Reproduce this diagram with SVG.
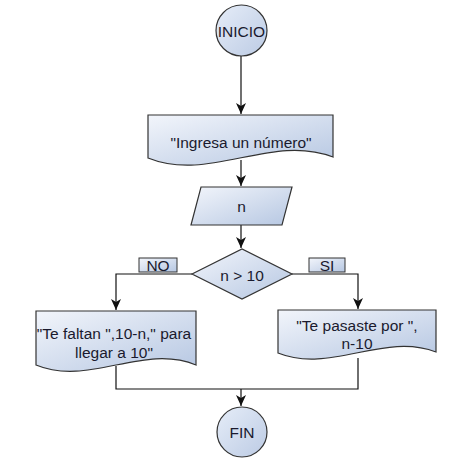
<svg xmlns="http://www.w3.org/2000/svg" width="464" height="466" viewBox="0 0 464 466">
<style>
.shape{stroke:#333;stroke-width:1.2;fill:url(#g)}
.circ{stroke:#333;stroke-width:1.2;fill:url(#gc)}
.lab{stroke:#333;stroke-width:1;fill:url(#g)}
.t{font-family:"Liberation Sans",Arial,sans-serif;font-size:15.5px;fill:#1a1a2e;text-anchor:middle;dominant-baseline:central}
.c{fill:none;stroke:#111;stroke-width:1.2}
</style>
<defs>
<linearGradient id="g" x1="0" y1="0" x2="1" y2="1">
<stop offset="0" stop-color="#f2f5fb"/><stop offset="1" stop-color="#b6c7e2"/>
</linearGradient>
<linearGradient id="gc" x1="0" y1="0" x2="1" y2="1">
<stop offset="0" stop-color="#e6edf8"/><stop offset="1" stop-color="#bccbe4"/>
</linearGradient>
<marker id="a" markerWidth="12" markerHeight="10" refX="11" refY="5" orient="auto" markerUnits="userSpaceOnUse">
<path d="M0,0 L11,5 L0,10 L3,5 Z" fill="#111"/>
</marker>
</defs>
<rect width="464" height="466" fill="#fff"/>
<g id="connectors">
<path class="c" d="M241,56 V114" marker-end="url(#a)"/>
<path class="c" d="M241,160 V186" marker-end="url(#a)"/>
<path class="c" d="M241,225 V248" marker-end="url(#a)"/>
<path class="c" d="M192,274 H116 V310" marker-end="url(#a)"/>
<path class="c" d="M292,274 H358 V309" marker-end="url(#a)"/>
<path class="c" d="M116,366 V389 H358 V358"/>
<path class="c" d="M241,389 V406" marker-end="url(#a)"/>
</g>
<g id="inicio">
<circle class="circ" cx="241.5" cy="30.5" r="25.5"/>
<text class="t" x="241.5" y="31">INICIO</text>
</g>
<g id="ingresa">
<path class="shape" d="M148,115 H333 V157 C271,133 210,183 148,158 Z"/>
<text class="t" x="241" y="142">"Ingresa un número"</text>
</g>
<g id="leer">
<path class="shape" d="M201,187 H292 L282,225 H191 Z"/>
<text class="t" x="241.5" y="206">n</text>
</g>
<g id="decision">
<path class="shape" d="M192,274 L242,249 L292,274 L242,299 Z"/>
<text class="t" x="242" y="275">n &gt; 10</text>
</g>
<g id="label-no">
<rect class="lab" x="139" y="258" width="38" height="14"/>
<text class="t" x="158" y="265.5">NO</text>
</g>
<g id="label-si">
<rect class="lab" x="309" y="258" width="36" height="14"/>
<text class="t" x="327" y="265.5">SI</text>
</g>
<g id="faltan">
<path class="shape" d="M36,311 H196 V365 C143,343 89,387 36,365 Z"/>
<text class="t" x="114" y="333">"Te faltan ",10-n," para</text>
<text class="t" x="114" y="352">llegar a 10"</text>
</g>
<g id="pasaste">
<path class="shape" d="M278,310 H436 V352 C384,332 330,374 278,353 Z"/>
<text class="t" x="357" y="325">"Te pasaste por ",</text>
<text class="t" x="357" y="343">n-10</text>
</g>
<g id="fin">
<circle class="circ" cx="242" cy="432" r="25"/>
<text class="t" x="242" y="432.5">FIN</text>
</g>
</svg>
